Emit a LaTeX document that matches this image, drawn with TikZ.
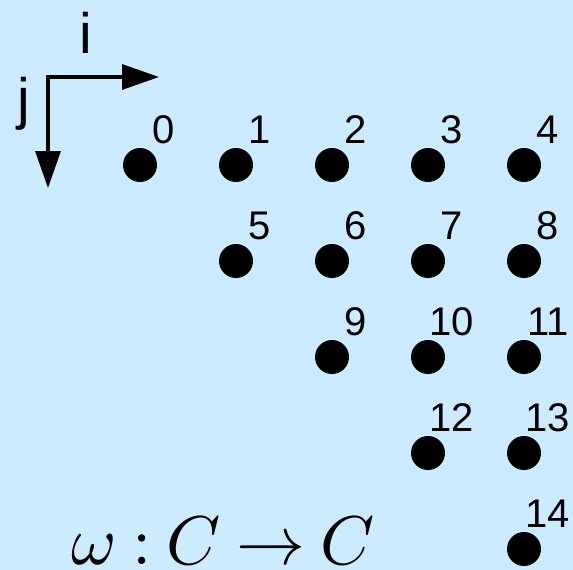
\documentclass[tikz,border=0pt]{standalone}
\usepackage{fontspec}
\setmainfont{Liberation Sans}
\usetikzlibrary{arrows.meta}
\definecolor{bgblue}{RGB}{204,235,255}
\begin{document}
\begin{tikzpicture}[x=1pt,y=-1pt,
  dot/.style={circle,fill=black,inner sep=0pt,minimum size=34pt},
  num/.style={anchor=base,inner sep=0pt,font=\fontsize{40}{48}\selectfont},
  axlabel/.style={anchor=base,inner sep=0pt,font=\fontsize{57}{68}\selectfont},
  axis/.style={line width=3.3pt,{Triangle[length=37pt,width=25pt]}-{Triangle[length=37pt,width=25pt]}}]
\fill[bgblue] (0,0) rectangle (573,570);
\useasboundingbox (0,0) rectangle (573,570);
% axes
\coordinate (corner) at (48,77);
\coordinate (itip) at (159,77);
\coordinate (jtip) at (48,188);
\draw[axis] (jtip) -- (corner) -- (itip);
\node[axlabel] (ilab) at (86,53) {i};
\node[axlabel] (jlab) at (24,118) {j};
% dots
\foreach \n/\i/\j in {0/0/0,1/1/0,2/2/0,3/3/0,4/4/0,5/1/1,6/2/1,7/3/1,8/4/1,9/2/2,10/3/2,11/4/2,12/3/3,13/4/3,14/4/4}{
  \node[dot] (d\n) at ({140+96*\i},{165+96*\j}) {};
  \node[num] (l\n) at ({164+96*\i},{143+96*\j}) {\n};
}
% formula
\node[anchor=base west,inner sep=0pt,font=\fontsize{10}{12}\selectfont,scale=6.9] (f) at (70,564)
  {$\omega\mkern-1mu\mathrel{:}\mkern-1mu C\mkern-1mu\to\mkern-1mu C$};
\end{tikzpicture}
\end{document}
